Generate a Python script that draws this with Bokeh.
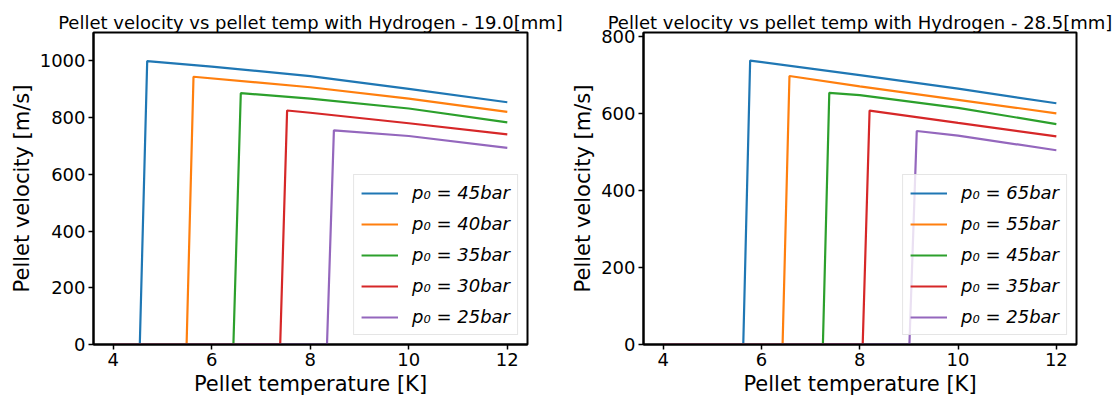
from bokeh.plotting import figure
from bokeh.models import Range1d, Legend, LegendItem, FixedTicker
from bokeh.layouts import row
from bokeh.embed import file_html
from bokeh.resources import INLINE

COLORS = ["#1f77b4", "#ff7f0e", "#2ca02c", "#d62728", "#9467bd"]

# ---- left panel: 19.0 mm ----
left_title = "Pellet velocity vs pellet temp with Hydrogen - 19.0[mm]"
left_labels = ["p₀ = 45bar", "p₀ = 40bar", "p₀ = 35bar", "p₀ = 30bar", "p₀ = 25bar"]
left_T = [
    [4.0, 4.54, 4.69, 6.0, 8.0, 10.0, 12.0],
    [4.0, 5.49, 5.63, 8.0, 10.0, 12.0],
    [4.0, 6.44, 6.59, 8.0, 10.0, 12.0],
    [4.0, 7.39, 7.53, 8.0, 10.0, 12.0],
    [4.0, 8.34, 8.48, 10.0, 12.0],
]
left_v = [
    [0, 0, 999, 980, 946, 901, 854],
    [0, 0, 944, 907, 867, 820],
    [0, 0, 886, 867, 832, 783],
    [0, 0, 825, 817, 780, 741],
    [0, 0, 755, 735, 693],
]
left_yticks = [0, 200, 400, 600, 800, 1000]

# ---- right panel: 28.5 mm ----
right_title = "Pellet velocity vs pellet temp with Hydrogen - 28.5[mm]"
right_labels = ["p₀ = 65bar", "p₀ = 55bar", "p₀ = 45bar", "p₀ = 35bar", "p₀ = 25bar"]
right_T = [
    [4.0, 5.63, 5.77, 8.0, 10.0, 12.0],
    [4.0, 6.43, 6.57, 8.0, 10.0, 12.0],
    [4.0, 7.25, 7.38, 8.0, 10.0, 12.0],
    [4.0, 8.06, 8.20, 10.0, 12.0],
    [4.0, 9.01, 9.16, 10.0, 12.0],
]
right_v = [
    [0, 0, 738, 700, 665, 627],
    [0, 0, 698, 671, 636, 601],
    [0, 0, 654, 648, 615, 573],
    [0, 0, 608, 576, 541],
    [0, 0, 555, 543, 505],
]
right_yticks = [0, 200, 400, 600, 800]

xticks = [4, 6, 8, 10, 12]
FONT = "DejaVu Sans"


def panel(title, labels, Ts, vs, yticks, ytop, width, bl, br):
    p = figure(width=width, height=398, x_range=Range1d(3.6, 12.41), y_range=Range1d(0, ytop),
               output_backend="svg", toolbar_location=None,
               min_border_left=bl, min_border_right=br, min_border_top=32, min_border_bottom=49)
    p.title.text = title
    p.title.align = "center"
    p.title.text_font = FONT
    p.title.text_font_size = "18px"
    p.title.text_font_style = "normal"
    p.title.text_color = "black"
    p.title.offset = 0
    p.title.standoff = 0
    p.xgrid.visible = False
    p.ygrid.visible = False
    p.outline_line_color = "black"
    p.outline_line_width = 2
    p.outline_line_alpha = 1
    for ax in (p.xaxis[0], p.yaxis[0]):
        ax.axis_line_color = "black"
        ax.axis_line_width = 2
        ax.major_tick_out = 5
        ax.major_tick_in = 0
        ax.major_tick_line_width = 1.5
        ax.minor_tick_out = 0
        ax.minor_tick_in = 0
        ax.major_label_text_font = FONT
        ax.major_label_text_font_size = "18px"
        ax.major_label_text_color = "black"
        ax.axis_label_text_font = FONT
        ax.axis_label_text_font_size = "21px"
        ax.axis_label_text_font_style = "normal"
        ax.axis_label_text_color = "black"
        ax.axis_label_standoff = 3
        ax.major_label_standoff = 3
    p.xaxis[0].ticker = FixedTicker(ticks=xticks)
    p.yaxis[0].ticker = FixedTicker(ticks=yticks)
    p.xaxis[0].axis_label = "Pellet temperature [K]"
    p.yaxis[0].axis_label = "Pellet velocity [m/s]"
    items = []
    for T, v, c, lab in zip(Ts, vs, COLORS, labels):
        r = p.line(T, v, line_color=c, line_width=2.2)
        items.append(LegendItem(label=lab, renderers=[r]))
    leg = Legend(items=items, location="bottom_right", margin=9,
                 label_text_font=FONT, label_text_font_size="18px", label_text_font_style="italic",
                 label_text_color="black",
                 glyph_width=37, glyph_height=20, label_height=20, spacing=10, padding=7,
                 label_standoff=14,
                 border_line_color="#cccccc", border_line_width=1,
                 background_fill_color="white", background_fill_alpha=0.8)
    p.add_layout(leg)
    return p


p1 = panel(left_title, left_labels, left_T, left_v, left_yticks, 1100, 568, 93, 41)
p2 = panel(right_title, right_labels, right_T, right_v, right_yticks, 811, 545, 74, 37)
layout = row(p1, p2)
open("out.html", "w").write(file_html(layout, INLINE))
